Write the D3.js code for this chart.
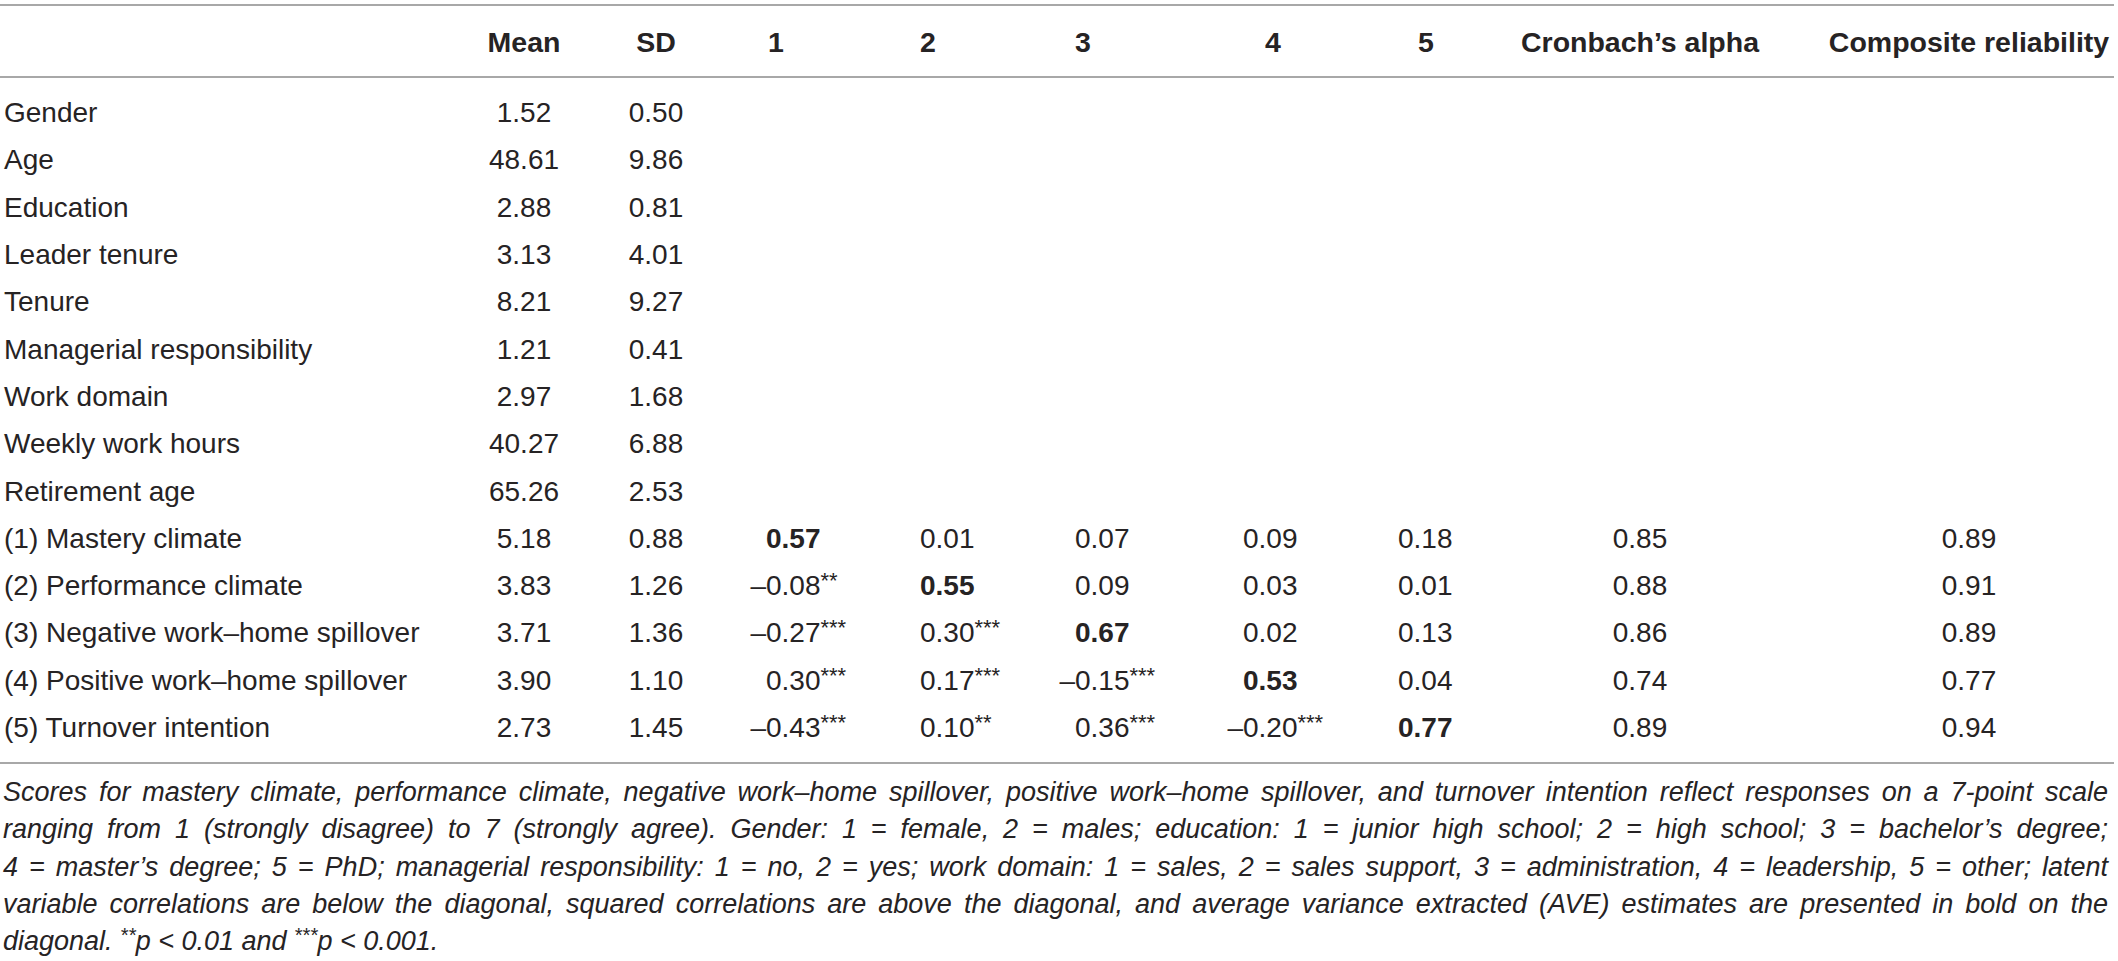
<!DOCTYPE html>
<html><head><meta charset="utf-8">
<script src="https://cdn.jsdelivr.net/npm/d3@7"></script>
<style>html,body{margin:0;padding:0;background:#fff;} svg{display:block;}</style>
</head><body><svg id="chart" width="2118" height="961"></svg>
<script>
// ---------- data ----------
const variables = ["Gender","Age","Education","Leader tenure","Tenure","Managerial responsibility","Work domain","Weekly work hours","Retirement age","(1) Mastery climate","(2) Performance climate","(3) Negative work–home spillover","(4) Positive work–home spillover","(5) Turnover intention"];
const means = [1.52,48.61,2.88,3.13,8.21,1.21,2.97,40.27,65.26,5.18,3.83,3.71,3.90,2.73];
const sds = [0.50,9.86,0.81,4.01,9.27,0.41,1.68,6.88,2.53,0.88,1.26,1.36,1.10,1.45];
const corrLabels = ["1","2","3","4","5"];
const corrValues = [
  [0.57,0.01,0.07,0.09,0.18],
  [-0.08,0.55,0.09,0.03,0.01],
  [-0.27,0.30,0.67,0.02,0.13],
  [0.30,0.17,-0.15,0.53,0.04],
  [-0.43,0.10,0.36,-0.20,0.77]
];
const corrStars = [
  ["","","","",""],
  ["**","","","",""],
  ["***","***","","",""],
  ["***","***","***","",""],
  ["***","**","***","***",""]
];
const alphas = [0.85,0.88,0.86,0.74,0.89];
const composite = [0.89,0.91,0.89,0.77,0.94];
const headers = ["Mean","SD","1","2","3","4","5","Cronbach’s alpha","Composite reliability"];
const footnoteLines = [
  "Scores for mastery climate, performance climate, negative work–home spillover, positive work–home spillover, and turnover intention reflect responses on a 7-point scale",
  "ranging from 1 (strongly disagree) to 7 (strongly agree). Gender: 1 = female, 2 = males; education: 1 = junior high school; 2 = high school; 3 = bachelor’s degree;",
  "4 = master’s degree; 5 = PhD; managerial responsibility: 1 = no, 2 = yes; work domain: 1 = sales, 2 = sales support, 3 = administration, 4 = leadership, 5 = other; latent",
  "variable correlations are below the diagonal, squared correlations are above the diagonal, and average variance extracted (AVE) estimates are presented in bold on the"
];
const lastLine = [
  {t:"diagonal. ", sup:false},{t:"**", sup:true},{t:"p < 0.01 and ", sup:false},{t:"***", sup:true},{t:"p < 0.001.", sup:false}
];

// ---------- layout ----------
const W = 2118, H = 961;
const FONT = "'Liberation Sans', Arial, Helvetica, sans-serif";
const INK = "#262324";
const svg = d3.select("#chart").attr("viewBox", `0 0 ${W} ${H}`);
svg.append("rect").attr("width", W).attr("height", H).attr("fill", "#fff");

const y = d3.scalePoint().domain(variables).range([112, 727]);
const headerKeys = ["Mean","SD","c1","c2","c3","c4","c5","alpha","cr"];
const xHeader = d3.scaleOrdinal().domain(headerKeys).range([524,656,768,920,1075,1265,1418,1640,1969]);
const headerAnchor = d3.scaleOrdinal().domain(headerKeys).range(["middle","middle","start","start","start","start","start","middle","middle"]);
const xCorr = d3.scaleOrdinal().domain(d3.range(5)).range([766,920,1075,1243,1398]);
const xMid = d3.scaleOrdinal().domain(["Mean","SD","alpha","cr"]).range([524,656,1640,1969]);
const fmt = d3.format(".2f");

// rules
const rules = [5, 77, 763];
svg.selectAll("line.rule").data(rules).join("line")
  .attr("class","rule").attr("x1",0).attr("x2",W-4)
  .attr("y1",d=>d).attr("y2",d=>d)
  .attr("stroke","#a8a8a8").attr("stroke-width",2);

const g = svg.append("g").attr("font-family", FONT).attr("fill", INK);

// header
g.selectAll("text.hdr").data(headers).join("text")
  .attr("class","hdr")
  .attr("x",(d,i)=>xHeader(headerKeys[i]))
  .attr("y",52)
  .attr("text-anchor",(d,i)=>headerAnchor(headerKeys[i]))
  .attr("font-size",28.5).attr("font-weight","bold")
  .text(d=>d);

// row labels
g.selectAll("text.lbl").data(variables).join("text")
  .attr("class","lbl").attr("x",4).attr("y",d=>y(d)).attr("dy","0.36em")
  .attr("font-size",28).text(d=>d);

// mean & sd
g.selectAll("text.mean").data(means).join("text")
  .attr("x",xMid("Mean")).attr("y",(d,i)=>y(variables[i])).attr("dy","0.36em")
  .attr("text-anchor","middle").attr("font-size",28).text(d=>fmt(d));
g.selectAll("text.sd").data(sds).join("text")
  .attr("x",xMid("SD")).attr("y",(d,i)=>y(variables[i])).attr("dy","0.36em")
  .attr("text-anchor","middle").attr("font-size",28).text(d=>fmt(d));

// correlations
const corrRows = variables.slice(9);
const cells = [];
corrValues.forEach((row,r)=>row.forEach((v,c)=>cells.push({r,c,v,s:corrStars[r][c]})));
const cg = g.selectAll("g.cell").data(cells).join("g").attr("class","cell");
cg.filter(d=>d.v<0).append("text")
  .attr("x",d=>xCorr(d.c)).attr("y",d=>y(corrRows[d.r])).attr("dy","0.36em")
  .attr("text-anchor","end").attr("font-size",28).text("–");
const ct = cg.append("text")
  .attr("x",d=>xCorr(d.c)).attr("y",d=>y(corrRows[d.r])).attr("dy","0.36em")
  .attr("font-size",28)
  .attr("font-weight",d=>d.r===d.c?"bold":null);
ct.append("tspan").text(d=>fmt(Math.abs(d.v)));
ct.append("tspan").attr("font-size",22).attr("dy",-7).text(d=>d.s);

// alpha & composite reliability
g.selectAll("text.alpha").data(alphas).join("text")
  .attr("x",xMid("alpha")).attr("y",(d,i)=>y(corrRows[i])).attr("dy","0.36em")
  .attr("text-anchor","middle").attr("font-size",28).text(d=>fmt(d));
g.selectAll("text.cr").data(composite).join("text")
  .attr("x",xMid("cr")).attr("y",(d,i)=>y(corrRows[i])).attr("dy","0.36em")
  .attr("text-anchor","middle").attr("font-size",28).text(d=>fmt(d));

// footnote
const fy = d3.scaleLinear().domain([0,4]).range([801,950]);
const FN = 27, RIGHT = 2108, LEFT = 3;
const fn = g.append("g").attr("font-style","italic").attr("font-size",FN);
footnoteLines.forEach((line,i)=>{
  const t = fn.append("text").attr("x",LEFT).attr("y",fy(i)).text(line);
  const w = t.node().getComputedTextLength();
  const spaces = (line.match(/ /g)||[]).length;
  t.attr("word-spacing", ((RIGHT-LEFT)-w)/spaces);
});
const lt = fn.append("text").attr("x",LEFT).attr("y",fy(4));
lastLine.forEach((p,i)=>{
  const ts = lt.append("tspan").text(p.t);
  if(p.sup) ts.attr("font-size",20).attr("dy",-8);
  else if(i>0 && lastLine[i-1].sup) ts.attr("dy",8);
});
</script>
</body></html>
